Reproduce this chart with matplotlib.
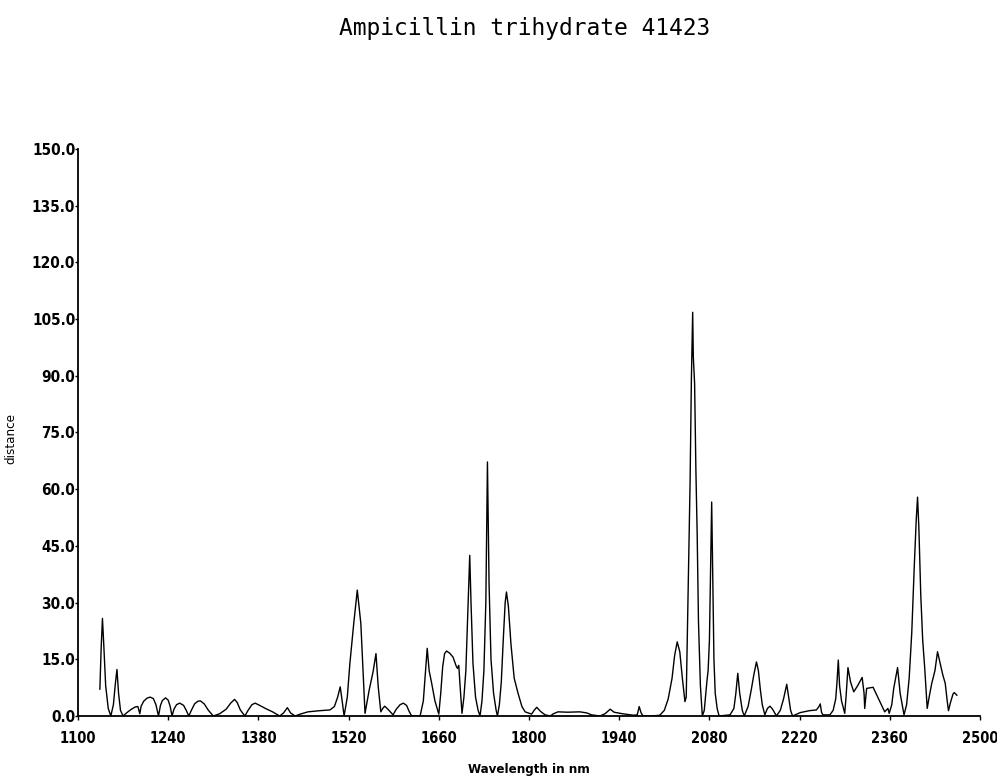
import matplotlib
matplotlib.use("Agg")
import matplotlib.pyplot as plt
from matplotlib import font_manager

# spectrum: wavelength (nm) and distance
wavelength = [
    1134, 1136, 1138, 1140, 1143, 1147, 1151, 1155, 1158, 1160.5, 1163, 1166, 1170,
    1176, 1183, 1189, 1193, 1196, 1198, 1202, 1207, 1212, 1217, 1221, 1225,
    1228, 1231, 1236, 1240, 1243, 1246, 1249, 1253, 1258, 1264, 1268, 1272,
    1276, 1281, 1286, 1290, 1296, 1302, 1310, 1320, 1330, 1337, 1343, 1347, 1352, 1359,
    1364, 1370, 1375, 1382, 1392, 1402, 1413, 1419, 1425, 1430, 1437,
    1445, 1457, 1475, 1491, 1498, 1503, 1507, 1510, 1513,
    1518, 1522, 1528, 1533.5, 1539, 1543, 1545.5, 1552, 1558, 1562.5, 1566, 1570,
    1573, 1576, 1581, 1589, 1594, 1600, 1605, 1610, 1614, 1618, 1631,
    1636, 1639, 1642, 1645, 1649, 1654, 1660, 1663, 1666, 1669, 1672, 1677, 1682,
    1687, 1689, 1691, 1693, 1696, 1699, 1702, 1705, 1708, 1710, 1713, 1717, 1721, 1724,
    1727, 1730, 1733, 1735.5, 1738, 1741, 1745, 1749, 1751,
    1754, 1757, 1760, 1763, 1765, 1768, 1772, 1777, 1783, 1789, 1794, 1804,
    1808, 1812, 1818, 1825, 1833, 1838, 1845, 1860, 1879, 1890, 1897, 1910,
    1918, 1926, 1932, 1945, 1962, 1968, 1971, 1974, 1977, 1990, 2003,
    2010, 2016, 2022, 2026, 2030, 2034, 2038, 2042,
    2044, 2047, 2050, 2051, 2052, 2054, 2055, 2057, 2059, 2061, 2063, 2066, 2069,
    2072, 2076, 2078, 2080, 2082, 2083.5, 2085, 2087, 2089, 2092, 2095,
    2112, 2118, 2121, 2124, 2127, 2131, 2134,
    2140, 2145, 2149, 2153, 2156, 2159, 2162, 2166, 2170, 2174, 2178, 2184,
    2190, 2195, 2200, 2203, 2206, 2209,
    2221, 2235, 2246, 2250, 2252, 2254, 2256, 2267, 2272, 2276, 2278, 2280, 2282, 2285, 2290,
    2292, 2295, 2299, 2304, 2310, 2317, 2320, 2321, 2324, 2334, 2342, 2352, 2357, 2359,
    2363, 2366, 2372, 2376, 2382,
    2386, 2390, 2394, 2398, 2401, 2403, 2405, 2408, 2411, 2414, 2418,
    2421, 2425, 2430, 2434, 2438, 2442, 2446, 2449, 2451, 2454, 2458, 2460, 2464,
]
distance = [
    7.1, 18, 25.8, 19, 8, 2, 0, 3, 8.5, 12.3, 6, 1.5, 0,
    0.9, 1.8, 2.4, 2.5, 0.6, 2.6, 3.9, 4.7, 5.0, 4.6, 3.0, 0,
    2.8, 4.1, 4.8, 4.2, 2.6, 0, 1.8, 3.0, 3.4, 2.8, 1.5, 0,
    1.5, 3.2, 3.9, 4.0, 3.2, 1.6, 0, 0.6, 1.8, 3.4, 4.4, 3.6, 1.6, 0,
    1.5, 3.0, 3.4, 2.8, 1.9, 1.1, 0, 0.8, 2.2, 0.8, 0,
    0.5, 1.1, 1.4, 1.6, 2.5, 5.0, 7.7, 4.0, 0,
    5, 13.9, 24.5, 33.3, 24.5, 9.5, 0.7, 6.9, 11.7, 16.5, 7.7, 1.1,
    2.0, 2.6, 1.8, 0.3, 1.8, 3.0, 3.4, 2.8, 1.2, 0, 0,
    4, 11, 17.9, 12, 8.6, 4, 0.5, 6, 13, 16.5, 17.2, 16.6, 15.6,
    13.2, 12.6, 13.4, 8, 0.7, 5, 12, 27, 42.5, 30, 14, 5, 1.5, 0,
    4, 12, 30, 67.2, 35, 15, 6, 1.5, 0,
    3, 9, 20, 30, 32.8, 29, 19, 10, 6, 2.5, 1.1, 0.5,
    1.5, 2.3, 1.2, 0.3, 0, 0.6, 1.1, 1.0, 1.1, 0.8, 0.3, 0,
    0.6, 1.8, 1.0, 0.6, 0.2, 0.3, 2.5, 0.8, 0, 0, 0.2,
    1.5, 4.5, 10, 16, 19.6, 17, 10, 3.8,
    5, 34, 62, 75, 89, 106.8, 95, 88, 65, 48, 25, 8, 0,
    1.5, 9, 12.1, 20, 40, 56.6, 38, 15, 6, 2, 0,
    0.3, 2, 6, 11.3, 6, 1.5, 0,
    2.5, 7, 11, 14.3, 12, 7, 3, 0.3, 2.0, 2.6, 1.8, 0,
    1.5, 4.5, 8.4, 5, 1.5, 0,
    0.9, 1.4, 1.6, 2.5, 3.2, 1.0, 0.3, 0.3, 1.5, 4.5, 9, 14.8, 8, 4, 0.7,
    5, 12.8, 9, 6.4, 8, 10.2, 6, 2.0, 7.3, 7.6, 4.7, 1.1, 2.0, 0.7,
    3, 7.3, 12.8, 6, 0.3,
    3, 10, 22, 40, 52, 57.9, 50, 32, 20, 13, 2.0,
    5, 8.6, 12, 17, 14, 11, 8.6, 4, 1.4, 3.5, 5.8, 6.2, 5.5,
]

x_ticks = [1100, 1240, 1380, 1520, 1660, 1800, 1940, 2080, 2220, 2360, 2500]
y_ticks = [0, 15, 30, 45, 60, 75, 90, 105, 120, 135, 150]

installed = {f.name for f in font_manager.fontManager.ttflist}
if "Liberation Sans Narrow" in installed:
    narrow = dict(family=["Liberation Sans Narrow", "DejaVu Sans"])
else:
    narrow = dict(family=["DejaVu Sans"], stretch="condensed")

fig = plt.figure(figsize=(9.97, 7.78), dpi=100)
ax = fig.add_axes([0.0782, 0.0797, 0.9048, 0.7288])

ax.plot(wavelength, distance, color="black", linewidth=1.0)

ax.set_xlim(1100, 2500)
ax.set_ylim(0, 150)
ax.set_xticks(x_ticks)
ax.set_yticks(y_ticks)
ax.set_xticklabels([str(t) for t in x_ticks], fontsize=10.5, fontweight="bold", **narrow)
ax.set_yticklabels([f"{t:.1f}" for t in y_ticks], fontsize=11, fontweight="bold", **narrow)
ax.tick_params(axis="x", length=3, width=1, pad=8)
ax.tick_params(axis="y", length=2, width=1, pad=0)

for side in ("top", "right"):
    ax.spines[side].set_visible(False)
for side in ("left", "bottom"):
    ax.spines[side].set_linewidth(1.3)

ax.set_xlabel("Wavelength in nm", fontsize=9.5, fontweight="bold", labelpad=12, **narrow)
ax.set_ylabel("distance", fontsize=9.5, **narrow)
ax.yaxis.set_label_coords(-0.067, 0.49)

fig.text(0.526, 0.963, "Ampicillin trihydrate 41423", ha="center", va="center",
         fontsize=16.5, family="DejaVu Sans Mono")

fig.savefig("out.png", dpi=100)
